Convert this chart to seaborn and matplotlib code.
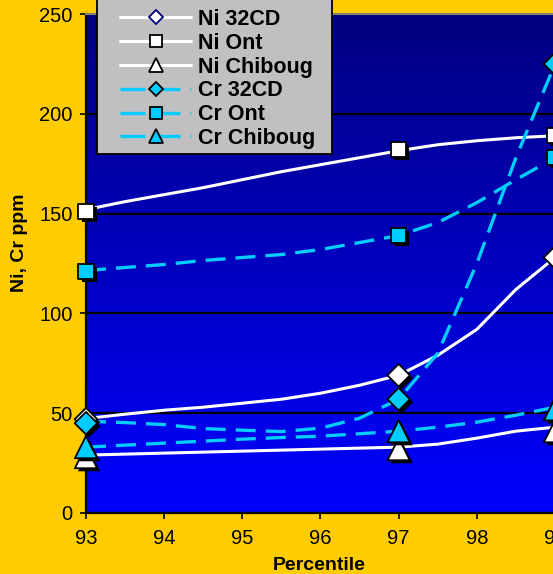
import numpy as np
import pandas as pd
import matplotlib
matplotlib.use('Agg')
import matplotlib.pyplot as plt
import seaborn as sns
from matplotlib import patheffects as pe
from matplotlib.colors import LinearSegmentedColormap
from matplotlib.lines import Line2D
from matplotlib.patches import Rectangle

# curves
pct = [93, 93.5, 94, 94.5, 95, 95.5, 96, 96.5, 97, 97.5, 98, 98.5, 99]
ni_32cd = [47.3, 49.5, 51.5, 53, 55, 57, 60, 64, 69, 79, 92, 112, 128]
ni_ont = [152, 156, 159.5, 163, 167, 171, 174.5, 178, 181.5, 184.5, 186.5, 188, 189]
ni_chib = [29, 29.5, 30, 30.5, 31, 31.5, 32, 32.5, 33, 34.5, 37.5, 41, 43]
cr_32cd = [46, 45.3, 44.3, 42.3, 41.5, 40.8, 42.5, 47.5, 57, 80, 125, 178, 225]
cr_ont = [121.5, 123, 124.5, 126.5, 128, 129.5, 132, 135.5, 139, 145.5, 155.5, 167, 178]
cr_chib = [33, 34, 35, 36, 37, 37.8, 38.5, 39.7, 41, 43, 45.5, 49, 53]

# markers
pct_mk = [93, 97, 99]
ni_32cd_mk = [47, 69, 128]
ni_ont_mk = [151, 182, 189]
ni_chib_mk = [28, 32, 41]
cr_32cd_mk = [45, 57, 225]
cr_ont_mk = [121, 139, 178]
cr_chib_mk = [33, 41, 52]

labels = ['Ni 32CD', 'Ni Ont', 'Ni Chiboug', 'Cr 32CD', 'Cr Ont', 'Cr Chiboug']

sns.set_style('ticks')
plt.rcParams['font.family'] = ['Liberation Sans', 'DejaVu Sans']
plt.rcParams['text.color'] = 'black'

gold = '#FFCC00'
cyan = '#00CCFF'

fig = plt.figure(figsize=(5.53, 5.74), dpi=100, facecolor=gold)
W, H = 553, 574
ax = fig.add_axes([86 / W, 1 - 513 / H, (555 - 86) / W, (513 - 14) / H])

# gradient plot area
cm = LinearSegmentedColormap.from_list('bg', ['#000080', '#0000FF'])
ax.imshow(np.linspace(0, 1, 256).reshape(-1, 1), extent=[0, 1, 0, 1],
          transform=ax.transAxes, cmap=cm, aspect='auto', zorder=0)

curves = [ni_32cd, ni_ont, ni_chib, cr_32cd, cr_ont, cr_chib]
for i, vals in enumerate(curves):
    if i < 3:
        sns.lineplot(x=pct, y=vals, ax=ax, color='white', lw=2.2, zorder=3)
    else:
        sns.lineplot(x=pct, y=vals, ax=ax, color=cyan, lw=2.4, zorder=3)
        ax.lines[-1].set_dashes((6, 3))

shadow = [pe.SimplePatchShadow(offset=(2.2, -2.2), shadow_rgbFace='black', alpha=1.0), pe.Normal()]
marks = [(ni_32cd_mk, 'D', 'white', 132), (ni_ont_mk, 's', 'white', 117),
         (ni_chib_mk, '^', 'white', 256), (cr_32cd_mk, 'D', cyan, 132),
         (cr_ont_mk, 's', cyan, 117), (cr_chib_mk, '^', cyan, 256)]
for vals, m, c, s in marks:
    sns.scatterplot(x=pct_mk, y=vals, marker=m, s=s, color=c, edgecolor='black',
                    linewidth=1.3, ax=ax, zorder=4, clip_on=False)
    ax.collections[-1].set_path_effects(shadow)

ax.set_xlim(93, 99)
ax.set_ylim(0, 250)
ax.set_xticks(range(93, 100))
ax.set_yticks(range(0, 251, 50))
ax.yaxis.grid(True, color='black', lw=1.6)
ax.set_axisbelow('line')
for s in ['left', 'bottom']:
    ax.spines[s].set_color('black')
    ax.spines[s].set_linewidth(1.6)
ax.spines['top'].set_color('#808080')
ax.spines['top'].set_linewidth(1.5)
ax.spines['right'].set_visible(False)
ax.tick_params(axis='both', direction='out', length=4.5, width=1.2, labelsize=14.5, colors='black')
ax.tick_params(axis='y', pad=5)
ax.tick_params(axis='x', pad=7)

fig.text(20 / W, 1 - 243 / H, 'Ni, Cr ppm', rotation=90, ha='center', va='center',
         fontsize=14, fontweight='bold', color='black')
fig.text(319 / W, 1 - 565 / H, 'Percentile', ha='center', va='center',
         fontsize=14, fontweight='bold', color='black')

# legend box
fig.patches.append(Rectangle((97 / W, 1 - 154 / H), (332 - 97) / W, 170 / H,
                             transform=fig.transFigure, facecolor='#C0C0C0',
                             edgecolor='black', lw=1.3, zorder=5))
handles = [
    Line2D([], [], color='white', lw=2.2, marker='D', ms=7.5, mfc='white', mec='#000080', mew=1.3),
    Line2D([], [], color='white', lw=2.2, marker='s', ms=9, mfc='white', mec='black', mew=1.3),
    Line2D([], [], color='white', lw=2.2, marker='^', ms=10.5, mfc='white', mec='black', mew=1.3),
    Line2D([], [], color=cyan, lw=2.4, marker='D', ms=7.5, mfc=cyan, mec='black', mew=1.3, dashes=(7.5, 3)),
    Line2D([], [], color=cyan, lw=2.4, marker='s', ms=9, mfc=cyan, mec='black', mew=1.3, dashes=(7.5, 3)),
    Line2D([], [], color=cyan, lw=2.4, marker='^', ms=10.5, mfc=cyan, mec='black', mew=1.3, dashes=(7.5, 3)),
]
leg = fig.legend(handles, labels, loc='lower left', bbox_to_anchor=(120 / W, 1 - 149 / H),
                 bbox_transform=fig.transFigure, frameon=False, borderpad=0, borderaxespad=0,
                 handlelength=3.3, handletextpad=0.3, labelspacing=0.13, numpoints=1,
                 prop={'weight': 'bold', 'size': 15.5})
leg.set_zorder(6)
for t in leg.get_texts():
    t.set_color('black')

fig.savefig('out.png', dpi=100, facecolor=gold)
